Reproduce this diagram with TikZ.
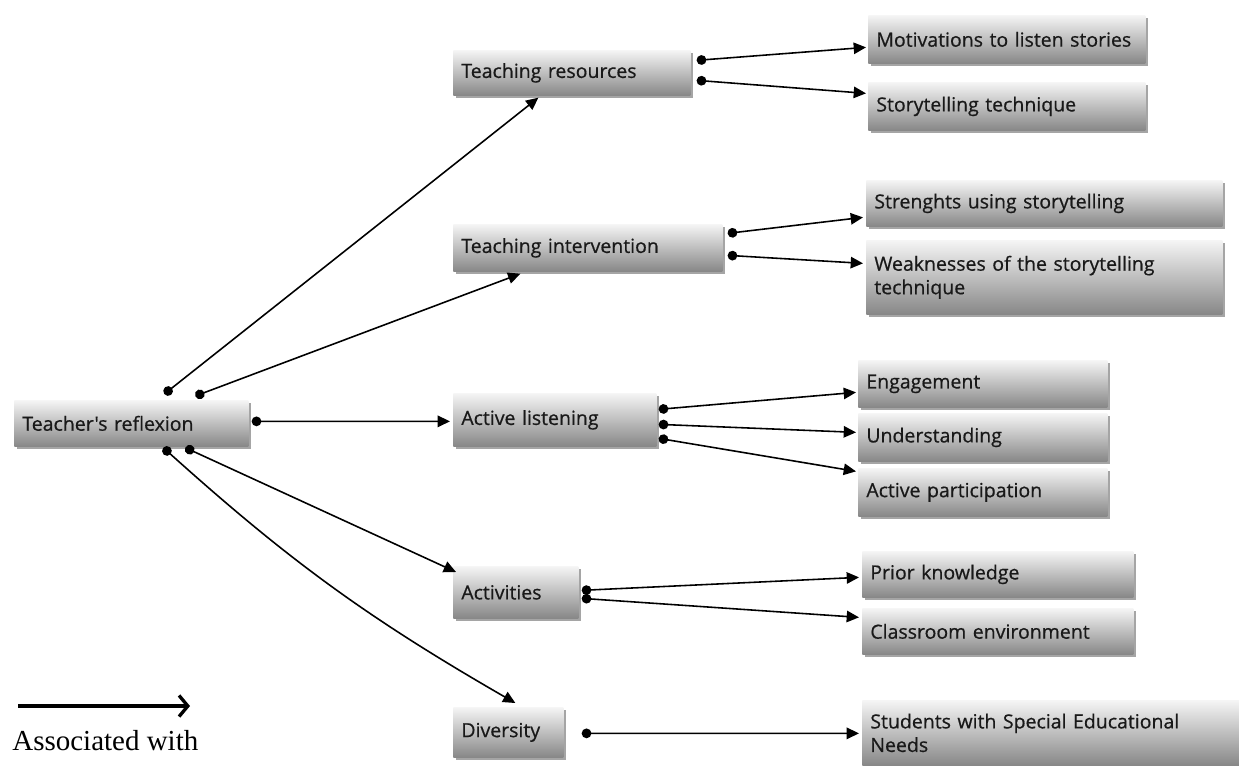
\documentclass[tikz,border=0pt]{standalone}
\usepackage{fontspec}
\setmainfont{Open Sans}
\newfontfamily\boxfont{Open Sans}[BoldFont={Open Sans}, BoldFeatures={FakeBold=0.6}]
\newfontfamily\legendfont{Liberation Serif}
\usetikzlibrary{arrows.meta,shadows}

\begin{document}
\begin{tikzpicture}[x=0.02cm, y=-0.02cm,
  box/.style={anchor=north west, align=left, inner xsep=0.16cm, top color=black!4, bottom color=black!47,
    drop shadow={shadow xshift=1.5pt, shadow yshift=-1.5pt, fill=black!70, opacity=0.5},
    font=\boxfont\bfseries\fontsize{11.1}{13.4}\selectfont, text=black!90},
  link/.style={line width=0.9pt, {Circle[length=5.5pt]}-{Triangle[length=7pt,width=6.5pt]}}]
\useasboundingbox (0,0) rectangle (1239,765);
\node [box, text width=4.36cm, minimum height=0.92cm] (tea) at (14,400) {Teacher's reflexion};
\node [box, text width=4.42cm, minimum height=0.9cm] (res) at (453,50) {Teaching resources};
\node [box, text width=5.22cm, minimum height=0.96cm] (mot) at (868,15) {Motivations to listen stories};
\node [box, text width=5.22cm, minimum height=0.96cm] (sto) at (868,82) {Storytelling technique};
\node [box, text width=5.06cm, minimum height=0.94cm] (int) at (453,224) {Teaching intervention};
\node [box, text width=6.8cm, minimum height=0.92cm] (str) at (866,180) {Strenghts using storytelling};
\node [box, text width=6.8cm, minimum height=1.48cm] (weak) at (866,240) {Weaknesses of the storytelling\\technique};
\node [box, text width=3.74cm, minimum height=1.06cm] (act) at (453,393) {Active listening};
\node [box, text width=4.66cm, minimum height=0.94cm] (eng) at (858,360) {Engagement};
\node [box, text width=4.66cm, minimum height=0.96cm] (und) at (858,413) {Understanding};
\node [box, text width=4.66cm, minimum height=0.96cm] (par) at (858,468) {Active participation};
\node [box, text width=2.18cm, minimum height=1.04cm] (acts) at (453,566) {Activities};
\node [box, text width=5.1cm, minimum height=0.92cm] (pri) at (862,551) {Prior knowledge};
\node [box, text width=5.1cm, minimum height=0.92cm] (cla) at (862,608) {Classroom environment};
\node [box, text width=1.88cm, minimum height=1.0cm] (div) at (453,707) {Diversity};
\node [box, text width=7.22cm, minimum height=1.3cm] (sen) at (862,700) {Students with Special Educational\\Needs};

\draw [link] ([shift={(33,-6)}]tea.north) -- ([shift={(-33.5,2)}]res.south);
\draw [link] ([shift={(64,-4)}]tea.north) -- ([shift={(-67.5,2)}]int.south);
\draw [link] ([shift={(3,-2)}]tea.east) -- ([shift={(-3,1.5)}]act.west);
\draw [link] ([shift={(54,1)}]tea.south) -- ([shift={(3,6)}]acts.north west);
\draw [link] ([shift={(32,1)}]tea.south) to[bend right=6] ([shift={(7,-4)}]div.north);

\draw [link] ([shift={(6,-12.5)}]res.east) -- ([shift={(-2,8)}]mot.west);
\draw [link] ([shift={(6,7.5)}]res.east) -- ([shift={(-2,-13)}]sto.west);
\draw [link] ([shift={(5,-14.5)}]int.east) -- ([shift={(-3,14)}]str.west);
\draw [link] ([shift={(5,7.5)}]int.east) -- ([shift={(-3,-14)}]weak.west);
\draw [link] ([shift={(2,-10.5)}]act.east) -- ([shift={(-2,8.5)}]eng.west);
\draw [link] ([shift={(2,4.5)}]act.east) -- ([shift={(-2,-5)}]und.west);
\draw [link] ([shift={(2,18.5)}]act.east) -- ([shift={(-2,-21)}]par.west);
\draw [link] ([shift={(3,-2)}]acts.east) -- ([shift={(-3,3)}]pri.west);
\draw [link] ([shift={(3,6)}]acts.east) -- ([shift={(-3,-14)}]cla.west);
\draw [link] ([shift={(18,1)}]div.east) -- ([shift={(-3,0.5)}]sen.west);

\coordinate (legA) at (18,706);
\coordinate (legB) at (190,706);
\draw [line width=1.9pt, -{Straight Barb[length=5pt,width=12pt]}] (legA) -- (legB);
\node [anchor=base west, inner sep=0pt, font=\legendfont\fontsize{16.5}{19}\selectfont] (leg) at (12,750) {Associated with};
\end{tikzpicture}
\end{document}
